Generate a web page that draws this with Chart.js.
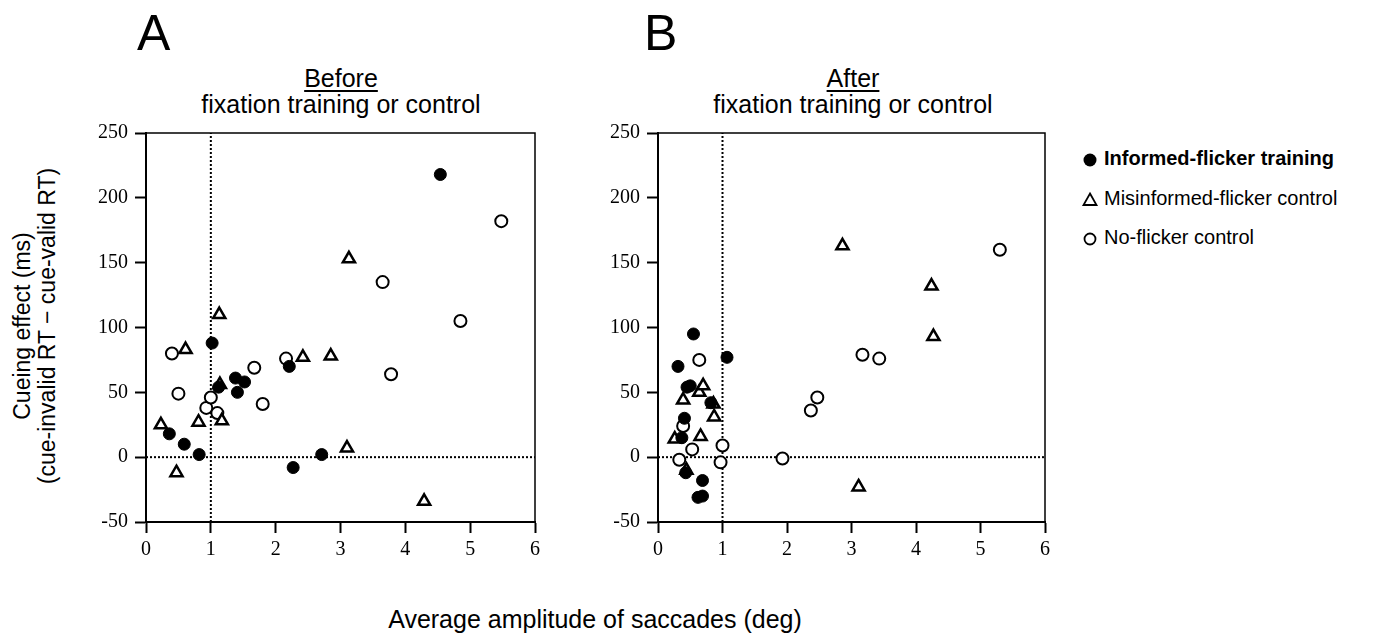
<!DOCTYPE html>
<html>
<head>
<meta charset="utf-8">
<script src="https://cdn.jsdelivr.net/npm/chart.js@4"></script>
<style>
  html, body { margin: 0; padding: 0; background: #fff; }
  body { width: 1373px; height: 637px; position: relative; overflow: hidden;
         font-family: "Liberation Sans", Arial, sans-serif; color: #000; }
  canvas { position: absolute; top: 0; }
  #chartA { left: 0; }
  #chartB { left: 560px; }
  .panel-letter { position: absolute; top: 8px; font-size: 50px; line-height: 1; }
  .panel-title { position: absolute; top: 65px; width: 390px; text-align: center;
                 font-size: 25px; line-height: 26px; }
  .panel-title u { text-decoration-thickness: 1.5px; text-underline-offset: 3px; }
  .ytitle { position: absolute; left: 35px; top: 326px; white-space: nowrap;
            font-size: 23px; line-height: 25px; text-align: center;
            transform: translate(-50%, -50%) rotate(-90deg); }
  .xtitle { position: absolute; left: 0; width: 1190px; top: 606px; text-align: center;
            font-size: 25px; line-height: 26px; }
  .legend { position: absolute; left: 1081px; top: 147px; font-size: 20px; }
  .legend div { height: 39.5px; display: flex; align-items: flex-start; }
  .legend svg { width: 18px; height: 26px; margin-right: 5px; }
</style>
</head>
<body>

<div class="panel-letter" style="left:137px">A</div>
<div class="panel-letter" style="left:644px">B</div>
<div class="panel-title" style="left:146px"><u>Before</u><br>fixation training or control</div>
<div class="panel-title" style="left:658px"><u>After</u><br>fixation training or control</div>
<div class="ytitle">Cueing effect (ms)<br>(cue-invalid RT − cue-valid RT)</div>
<div class="xtitle">Average amplitude of saccades (deg)</div>

<div class="legend">
  <div><svg viewBox="0 0 18 26"><circle cx="9" cy="13" r="6.5" fill="#000"/></svg><b>Informed-flicker training</b></div>
  <div><svg viewBox="0 0 18 26"><polygon points="9,6.5 15.5,18 2.5,18" fill="#fff" stroke="#000" stroke-width="1.8"/></svg>Misinformed-flicker control</div>
  <div><svg viewBox="0 0 18 26"><circle cx="9" cy="13" r="5.5" fill="#fff" stroke="#000" stroke-width="1.8"/></svg>No-flicker control</div>
</div>

<canvas id="chartA" width="560" height="580"></canvas>
<canvas id="chartB" width="512" height="580"></canvas>

<script>
// ---- data ----
// Panel A: before fixation training or control
const beforeInformedX    = [0.36, 0.59, 0.82, 1.02, 1.12, 1.38, 1.41, 1.52, 2.21, 2.27, 2.71, 4.54];
const beforeInformedY    = [18, 10, 2, 88, 54, 61, 50, 58, 70, -8, 2, 218];
const beforeMisinformedX = [0.23, 0.47, 0.61, 0.81, 1.13, 1.14, 1.17, 2.42, 2.85, 3.10, 3.13, 4.29];
const beforeMisinformedY = [25, -12, 83, 27, 110, 56, 28, 77, 78, 7, 153, -34];
const beforeNoFlickerX   = [0.40, 0.50, 0.93, 1.00, 1.10, 1.67, 1.80, 2.16, 3.65, 3.78, 4.85, 5.48];
const beforeNoFlickerY   = [80, 49, 38, 46, 34, 69, 41, 76, 135, 64, 105, 182];

// Panel B: after fixation training or control
const afterInformedX    = [0.31, 0.37, 0.41, 0.43, 0.45, 0.50, 0.55, 0.62, 0.69, 0.69, 0.82, 1.07];
const afterInformedY    = [70, 15, 30, -12, 54, 55, 95, -31, -30, -18, 42, 77];
const afterMisinformedX = [0.26, 0.39, 0.44, 0.64, 0.66, 0.70, 0.86, 0.87, 2.86, 3.11, 4.24, 4.27];
const afterMisinformedY = [14, 44, -10, 50, 16, 55, 41, 31, 163, -23, 132, 93];
const afterNoFlickerX   = [0.33, 0.39, 0.53, 0.64, 0.97, 1.00, 1.93, 2.37, 2.47, 3.17, 3.43, 5.30];
const afterNoFlickerY   = [-2, 24, 6, 75, -4, 9, -1, 36, 46, 79, 76, 160];

// axes and reference lines
const xMin = 0, xMax = 6, xStep = 1;
const yMin = -50, yMax = 250, yStep = 50;
const refAmplitude = 1;   // vertical dotted line
const refCueing = 0;      // horizontal dotted line

const zip = (xs, ys) => xs.map((x, i) => ({ x: x, y: ys[i] }));

// box around the plotting area (top + right sides)
const frameBox = {
  id: 'frameBox',
  afterDraw(chart) {
    const a = chart.chartArea, c = chart.ctx;
    c.save();
    c.strokeStyle = '#000';
    c.lineWidth = 1.5;
    c.beginPath();
    c.moveTo(a.left, a.top);
    c.lineTo(a.right, a.top);
    c.lineTo(a.right, a.bottom);
    c.stroke();
    c.restore();
  }
};

function buildPanel(canvasId, yAxisWidth, rightPad, informedX, informedY, misX, misY, noX, noY) {
  const tickFont = { family: 'Liberation Serif', size: 20 };
  return new Chart(document.getElementById(canvasId), {
    type: 'scatter',
    data: {
      datasets: [
        {
          label: 'Informed-flicker training',
          data: zip(informedX, informedY),
          pointStyle: 'circle',
          pointRadius: 6,
          backgroundColor: '#000',
          borderColor: '#000',
          borderWidth: 1
        },
        {
          label: 'Misinformed-flicker control',
          data: zip(misX, misY),
          pointStyle: 'triangle',
          pointRadius: 7,
          backgroundColor: '#fff',
          borderColor: '#000',
          borderWidth: 2.5
        },
        {
          label: 'No-flicker control',
          data: zip(noX, noY),
          pointStyle: 'circle',
          pointRadius: 6,
          backgroundColor: '#fff',
          borderColor: '#000',
          borderWidth: 2
        },
        {
          data: [{ x: refAmplitude, y: yMin }, { x: refAmplitude, y: yMax }],
          showLine: true,
          pointRadius: 0,
          borderColor: '#000',
          borderWidth: 2,
          borderDash: [2, 2]
        },
        {
          data: [{ x: xMin, y: refCueing }, { x: xMax, y: refCueing }],
          showLine: true,
          pointRadius: 0,
          borderColor: '#000',
          borderWidth: 2,
          borderDash: [2, 2]
        }
      ]
    },
    options: {
      responsive: false,
      animation: false,
      devicePixelRatio: 1,
      layout: { padding: { top: 133, right: rightPad, left: 0, bottom: 0 } },
      plugins: { legend: { display: false }, tooltip: { enabled: false } },
      scales: {
        x: {
          type: 'linear',
          min: xMin, max: xMax,
          afterFit: (s) => { s.height = 58; },
          border: { display: true, color: '#000', width: 2 },
          grid: { drawOnChartArea: false, drawTicks: true, tickLength: 11, tickWidth: 2, color: '#000' },
          ticks: { stepSize: xStep, color: '#000', font: tickFont, padding: 5, maxRotation: 0 }
        },
        y: {
          type: 'linear',
          min: yMin, max: yMax,
          afterFit: (s) => { s.width = yAxisWidth; },
          border: { display: true, color: '#000', width: 2 },
          grid: { drawOnChartArea: false, drawTicks: true, tickLength: 11, tickWidth: 2, color: '#000' },
          ticks: { stepSize: yStep, color: '#000', font: tickFont, padding: 7 }
        }
      }
    },
    plugins: [frameBox]
  });
}

buildPanel('chartA', 146, 25,
  beforeInformedX, beforeInformedY, beforeMisinformedX, beforeMisinformedY, beforeNoFlickerX, beforeNoFlickerY);
buildPanel('chartB', 98, 27,
  afterInformedX, afterInformedY, afterMisinformedX, afterMisinformedY, afterNoFlickerX, afterNoFlickerY);
</script>
</body>
</html>
